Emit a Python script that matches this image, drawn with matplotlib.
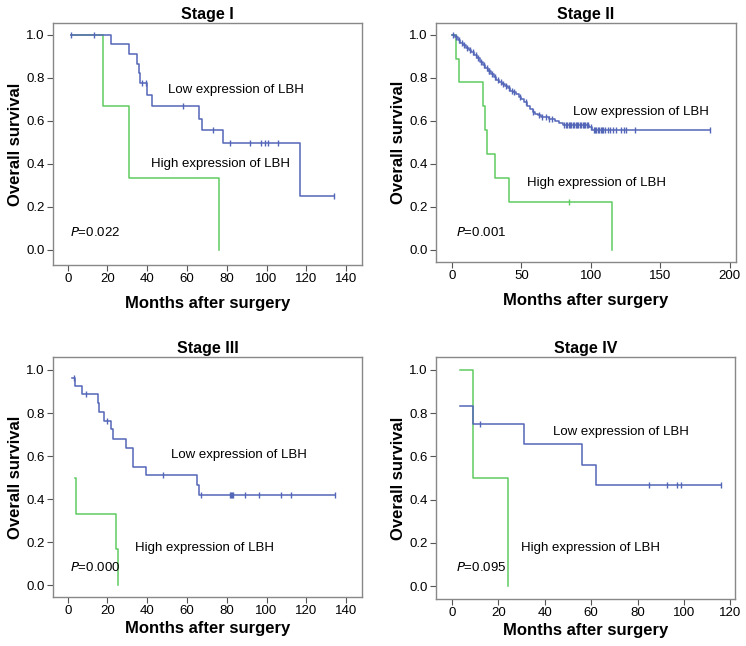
import numpy as np
import matplotlib
matplotlib.use("Agg")
import matplotlib.pyplot as plt

plt.rcParams['font.family'] = ['Liberation Sans', 'DejaVu Sans']

titles = ["Stage I", "Stage II", "Stage III", "Stage IV"]
pvals = ["0.022", "0.001", "0.000", "0.095"]

# Stage I
s1_low_t = [1.5, 21.8, 30.7, 34.9, 35.7, 36.5, 40.0, 42.3, 66.0, 67.7, 78.0, 117.0, 134.0]
s1_low_s = [1.0, 0.955, 0.91, 0.865, 0.82, 0.775, 0.72, 0.67, 0.61, 0.557, 0.495, 0.248, 0.248]
s1_low_c = [1.5, 13.2, 37.5, 39.5, 58.0, 73.0, 81.5, 91.7, 97.0, 99.0, 100.8, 106.0, 134.0]
s1_high_t = [1.5, 17.8, 30.7, 76.0]
s1_high_s = [1.0, 0.667, 0.333, 0.0]
s1_high_c = []

# Stage II
s2_low_t = [0, 2, 4, 6, 8, 10, 12, 14, 16, 18, 20, 22, 24, 26, 28, 30, 32, 34, 36, 38,
            40, 42, 44, 46, 48, 50, 52, 54, 56, 58, 60, 62, 64, 70, 74, 77, 80, 99, 101, 185.5]
s2_low_s = [1.0, 0.99, 0.975, 0.96, 0.95, 0.94, 0.93, 0.92, 0.905, 0.89, 0.875, 0.86, 0.845,
            0.83, 0.815, 0.805, 0.79, 0.78, 0.77, 0.76, 0.75, 0.74, 0.735, 0.725, 0.71, 0.70,
            0.685, 0.67, 0.655, 0.64, 0.63, 0.625, 0.618, 0.61, 0.60, 0.59, 0.578, 0.572,
            0.557, 0.557]
s2_low_c = [1, 3, 5, 7, 9, 11, 13, 15, 17, 19, 21, 23, 25, 26.5, 27, 29, 31, 33, 35, 37, 39,
            41, 43, 45, 49, 53, 58, 63, 65, 68, 70, 72, 81, 82, 83, 84, 85, 86, 87, 88, 89, 90,
            91, 92, 93, 94, 95, 96, 97, 98, 100, 102, 103, 104, 105, 106, 107, 108, 109, 110,
            112, 114, 116, 118, 122, 124, 125, 132, 185.5]
s2_high_t = [0, 2.6, 4.8, 22.3, 23.8, 25.2, 31.2, 41.0, 115.0]
s2_high_s = [1.0, 0.889, 0.778, 0.667, 0.556, 0.444, 0.333, 0.222, 0.0]
s2_high_c = [84.3]

# Stage III
s3_low_t = [2.0, 3.9, 7.0, 15.0, 15.8, 18.0, 21.8, 23.0, 29.2, 33.0, 39.2, 65.0, 66.0, 134.5]
s3_low_s = [0.963, 0.927, 0.889, 0.848, 0.806, 0.765, 0.724, 0.68, 0.637, 0.55, 0.51, 0.465, 0.418, 0.418]
s3_low_c = [3.0, 9.0, 19.8, 48.0, 67.0, 81.6, 82.2, 82.8, 83.2, 89.0, 96.0, 107.3, 112.3, 134.5]
s3_high_t = [3.5, 4.2, 24.1, 25.1]
s3_high_s = [0.5, 0.333, 0.167, 0.0]
s3_high_c = []

# Stage IV
s4_low_t = [3.6, 8.9, 31.0, 55.9, 62.0, 115.8]
s4_low_s = [0.834, 0.75, 0.657, 0.562, 0.469, 0.469]
s4_low_c = [11.9, 84.8, 92.8, 96.9, 98.9, 115.8]
s4_high_t = [3.6, 8.9, 24.0]
s4_high_s = [1.0, 0.5, 0.0]
s4_high_c = []

low_curves = [(s1_low_t, s1_low_s, s1_low_c), (s2_low_t, s2_low_s, s2_low_c),
              (s3_low_t, s3_low_s, s3_low_c), (s4_low_t, s4_low_s, s4_low_c)]
high_curves = [(s1_high_t, s1_high_s, s1_high_c), (s2_high_t, s2_high_s, s2_high_c),
               (s3_high_t, s3_high_s, s3_high_c), (s4_high_t, s4_high_s, s4_high_c)]

xlims = [(-7.4, 148), (-11.5, 204.5), (-7.4, 148), (-6.9, 122)]
ylims = [(-0.071, 1.054), (-0.056, 1.054), (-0.054, 1.06), (-0.059, 1.06)]
xticks = [np.arange(0, 141, 20), np.arange(0, 201, 50), np.arange(0, 141, 20), np.arange(0, 121, 20)]
low_pos = [(50.6, 0.743), (87.2, 0.642), (51.8, 0.607), (43.5, 0.715)]
high_pos = [(41.9, 0.40), (54.3, 0.313), (33.9, 0.172), (29.9, 0.177)]
p_pos = [(1.2, 0.079), (2.6, 0.08), (1.2, 0.084), (1.6, 0.088)]
xlabelpads = [8, 8, 3, 3]

# axes rectangles in pixels: left, right, top, bottom
rects = [(53, 362, 23, 265), (436, 736, 23, 262), (53, 362, 357, 597), (436, 735, 357, 599)]

W, H = 746, 646
fig = plt.figure(figsize=(W / 100, H / 100), dpi=100)

BLUE = '#5366b8'
GREEN = '#5fcc5f'
FRAME = '#888888'


def step_val(t, s, x):
    idx = np.searchsorted(np.asarray(t), x, side='right') - 1
    idx = max(idx, 0)
    return s[idx]


for i in range(4):
    l, r, tp, b = rects[i]
    ax = fig.add_axes([l / W, 1 - b / H, (r - l) / W, (b - tp) / H])
    for (t, s, c), col in ((high_curves[i], GREEN), (low_curves[i], BLUE)):
        ax.step(t, s, where='post', color=col, lw=1.1)
        if c:
            cy = [step_val(t, s, x) for x in c]
            ax.plot(c, cy, ls='none', marker='|', ms=5, mew=1.0, color=col)
    ax.set_xlim(*xlims[i])
    ax.set_ylim(*ylims[i])
    ax.set_xticks(xticks[i])
    ax.set_yticks(np.arange(0, 1.01, 0.2))
    ax.set_yticklabels([f"{v:.1f}" for v in np.arange(0, 1.01, 0.2)])
    for sp in ax.spines.values():
        sp.set_color(FRAME)
        sp.set_linewidth(1.0)
    ax.tick_params(direction='out', length=4, color='#555555', labelsize=9.5, pad=2)
    ax.set_title(titles[i], fontsize=11.5, fontweight='bold', pad=3)
    ax.set_xlabel("Months after surgery", fontsize=12, fontweight='bold', labelpad=xlabelpads[i])
    ax.set_ylabel("Overall survival", fontsize=12, fontweight='bold', labelpad=2)
    ax.text(*low_pos[i], "Low expression of LBH", fontsize=9.5, va='center', ha='left')
    ax.text(*high_pos[i], "High expression of LBH", fontsize=9.5, va='center', ha='left')
    ax.text(*p_pos[i], f"$P$={pvals[i]}", fontsize=9.5, va='center', ha='left')

fig.savefig("out.png", dpi=100)
